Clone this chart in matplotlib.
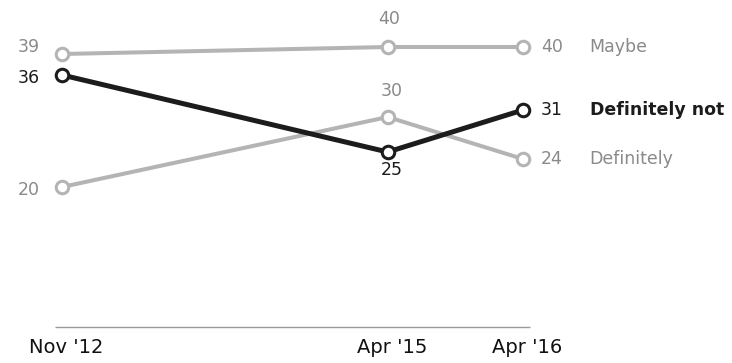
import matplotlib
matplotlib.use('Agg')
import matplotlib.pyplot as plt
import matplotlib.dates as mdates
import pandas as pd

# Survey waves and shares (%)
fechas = ['2012-11-15', '2015-04-15', '2016-04-15']
rotulos_x = ["Nov '12", "Apr '15", "Apr '16"]
maybe = [39, 40, 40]
definitely_not = [36, 25, 31]
definitely = [20, 30, 24]

x = mdates.date2num(pd.to_datetime(fechas))

plt.rcParams['font.family'] = ['DejaVu Sans']

fig = plt.figure(figsize=(7.32, 3.63), dpi=100)
ax = fig.add_axes([0, 0, 1, 1])
ax.axis('off')

# Escala: pixels por dia e por ponto percentual
px_dia = (523 - 62) / (x[-1] - x[0])
px_pp = 7.0
ax.set_xlim(x[0] - 62 / px_dia, x[0] + (732 - 62) / px_dia)
ax.set_ylim(-36 / px_pp, 327 / px_pp)

cinza_linha = '#b4b4b4'
cinza_texto = '#8a8a8a'
preto = '#1c1c1c'

# Linha de base
ax.hlines(0, x[0] - 7 / px_dia, x[-1] + 7 / px_dia, color='#9a9a9a', linewidth=1.0)

series = [
    (maybe, cinza_linha, 2.9, 2),
    (definitely, cinza_linha, 2.9, 2),
    (definitely_not, preto, 3.6, 3),
]
for valores, cor, lw, z in series:
    ax.plot(x, valores, color=cor, linewidth=lw, marker='o', markersize=9,
            markerfacecolor='white', markeredgecolor=cor, markeredgewidth=2.2,
            zorder=z)

def rotulo(texto, xv, yv, dx, dy, cor, ha='center', peso='normal', tam=12.5):
    ax.annotate(texto, xy=(xv, yv), xytext=(dx, dy), textcoords='offset points',
                ha=ha, va='center', color=cor, fontsize=tam, fontweight=peso)

# Valores iniciais
rotulo(str(maybe[0]), x[0], maybe[0], -16, 5, cinza_texto, ha='right')
rotulo(str(definitely_not[0]), x[0], definitely_not[0], -16, -2, preto, ha='right')
rotulo(str(definitely[0]), x[0], definitely[0], -16, -2, cinza_texto, ha='right')

# Valores do meio
rotulo(str(maybe[1]), x[1], maybe[1], 1, 20, cinza_texto)
rotulo(str(definitely[1]), x[1], definitely[1], 3, 19, cinza_texto)
rotulo(str(definitely_not[1]), x[1], definitely_not[1], 3, -13, preto)

# Valores finais com nome da série
finais = [
    (maybe[-1], 'Maybe', cinza_texto, 'normal'),
    (definitely_not[-1], 'Definitely not', preto, 'bold'),
    (definitely[-1], 'Definitely', cinza_texto, 'normal'),
]
for v, nome, cor, peso in finais:
    rotulo(str(v), x[-1], v, 13, 0, cor, ha='left')
    rotulo(nome, x[-1], v, 48, 0, cor, ha='left', peso=peso)

# Rótulos do eixo x
for xv, txt in zip(x, rotulos_x):
    ax.annotate(txt, xy=(xv, 0), xytext=(3, -15), textcoords='offset points',
                ha='center', va='center', color='#111111', fontsize=14)

plt.savefig('out.png', dpi=100)
plt.close()
